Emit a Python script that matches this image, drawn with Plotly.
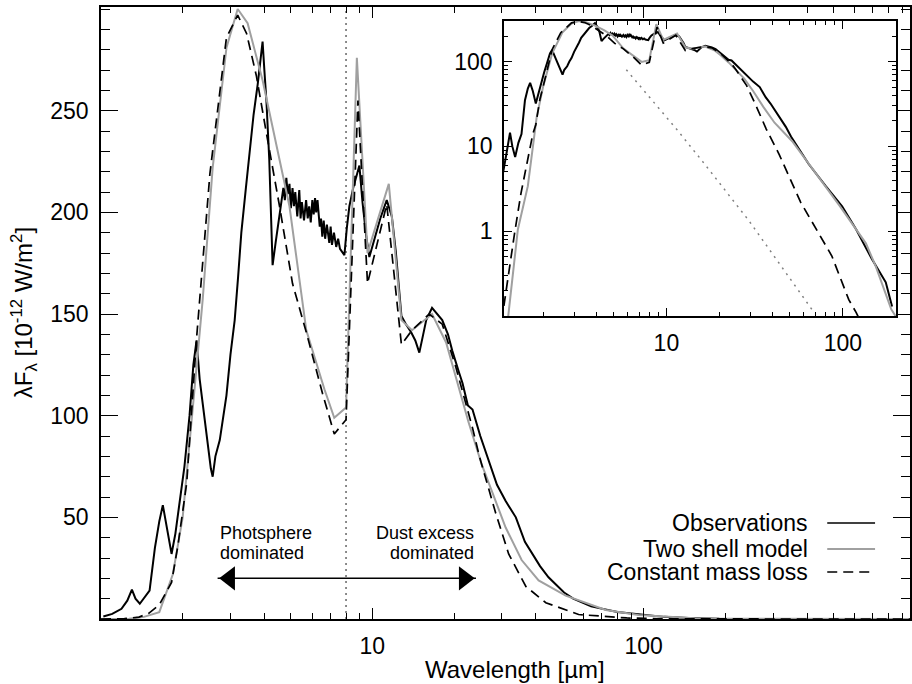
import math
import plotly.graph_objects as go

# ---------------- data ----------------
obs_wl = [1.02, 1.10, 1.19, 1.25, 1.30, 1.34, 1.39, 1.45, 1.51, 1.58, 1.64, 1.69, 1.75, 1.82, 1.88,
          1.95, 2.03, 2.12, 2.19, 2.25, 2.31, 2.37, 2.45, 2.54, 2.58, 2.64, 2.74, 2.82, 2.90, 3.00,
          3.11, 3.20, 3.29, 3.42, 3.53, 3.65, 3.78, 3.88, 3.94, 4.00, 4.07, 4.17, 4.24, 4.29, 4.40,
          4.55, 4.63, 4.70, 4.76, 4.82, 4.88, 4.95, 5.01, 5.08, 5.14, 5.20, 5.29, 5.38, 5.44, 5.50,
          5.60, 5.70, 5.78, 5.85, 5.93, 6.01, 6.08, 6.15, 6.21, 6.28, 6.40, 6.47, 6.54, 6.62, 6.70,
          6.80, 6.94, 7.02, 7.10, 7.22, 7.36, 7.48, 7.60, 7.89, 8.05, 8.23, 8.50, 8.72, 8.96, 9.20,
          9.50, 9.75, 10.2, 10.7, 11.3, 11.8, 12.2, 12.5, 12.8, 13.3, 13.9, 14.4, 14.9, 15.4, 15.8,
          16.6, 17.3, 18.1, 19.0, 19.7, 20.9, 21.5, 22.5, 23.4, 25.0, 26.2, 26.9, 28.8, 31.0, 33.8,
          36.5, 38.9, 41.5, 44.6, 47.5, 50.9, 55.0, 64.0, 80.0, 99.0, 119.0, 146.0, 175.0, 190.0]
obs_flux = [1.2, 2.5, 5.0, 9.0, 14.5, 10.0, 7.5, 11.0, 14.0, 35.0, 48.0, 56.0, 45.0, 32.0, 42.0,
            58.0, 75.0, 100.0, 125.0, 137.0, 118.0, 106.0, 90.0, 74.0, 70.0, 80.0, 88.0, 100.0, 110.0, 130.0,
            147.0, 168.0, 190.0, 212.0, 230.0, 248.0, 263.0, 278.0, 284.0, 270.0, 255.0, 226.0, 195.0, 174.0, 185.0,
            198.0, 206.0, 212.0, 206.0, 217.0, 209.0, 214.0, 202.0, 212.0, 203.0, 210.0, 198.0, 211.0, 197.0, 205.0,
            196.0, 206.0, 197.0, 203.0, 195.0, 206.0, 199.0, 207.0, 200.0, 206.0, 193.0, 197.0, 188.0, 196.0, 187.0,
            194.0, 185.0, 193.0, 184.0, 190.0, 183.0, 187.0, 182.0, 179.0, 192.0, 203.0, 212.0, 217.0, 223.0, 205.0,
            188.0, 178.0, 187.0, 197.0, 206.0, 198.0, 181.0, 165.0, 149.0, 145.0, 141.0, 137.0, 131.0, 140.0, 147.0,
            153.0, 150.0, 147.0, 140.0, 132.0, 121.0, 116.0, 105.0, 103.0, 90.0, 82.0, 77.0, 66.0, 58.0, 50.0,
            38.0, 32.0, 26.0, 20.5, 17.0, 13.0, 10.0, 6.2, 3.4, 1.97, 1.05, 0.47, 0.25, 0.13]

two_wl = [1.0, 1.27, 1.44, 1.64, 1.84, 2.0, 2.25, 2.37, 2.58, 2.9, 3.19, 3.47, 3.94, 4.43, 4.95,
          5.71, 6.66, 7.24, 8.0, 8.77, 9.6, 11.5, 12.8, 14.0, 15.8, 16.6, 18.7, 20.3, 22.6, 25.3,
          27.6, 31.0, 35.5, 41.0, 51.6, 72.5, 95.7, 135.0, 154.0, 188.0, 400.0, 1000.0]
two_flux = [0.004, 0.1, 1.05, 3.4, 22.0, 50.0, 124.0, 157.0, 222.0, 281.0, 300.0, 293.0, 265.0, 234.0, 203.0,
            142.0, 113.0, 99.0, 104.0, 276.0, 180.0, 214.0, 147.0, 142.0, 148.0, 150.0, 136.0, 119.0, 97.0, 76.0,
            63.0, 45.0, 29.0, 19.0, 11.5, 4.4, 2.0, 0.72, 0.38, 0.12, 0.01, 0.001]

cml_wl = [1.0, 1.22, 1.38, 1.5, 1.64, 1.75, 1.82, 1.92, 2.07, 2.25, 2.52, 2.90, 3.19, 3.44, 3.74,
          4.07, 4.55, 5.08, 5.71, 6.55, 7.24, 8.0, 8.85, 9.6, 11.3, 12.8, 14.0, 16.2, 18.1, 20.3,
          23.4, 24.8, 28.5, 31.8, 36.8, 43.6, 57.6, 86.6, 108.0, 119.0, 300.0, 1000.0]
cml_flux = [0.01, 0.17, 0.95, 2.8, 7.0, 14.0, 18.0, 36.0, 67.0, 138.0, 219.0, 286.0, 297.0, 288.0, 267.0,
            239.0, 203.0, 165.0, 141.0, 111.0, 91.0, 98.0, 255.0, 165.0, 204.0, 135.0, 142.0, 150.0, 145.0, 124.0,
            94.0, 80.0, 52.0, 32.0, 16.0, 8.0, 2.2, 0.51, 0.156, 0.11, 0.002, 0.0001]

phot_wl = [5.93, 11.4, 15.8, 29.2, 66.7]
phot_flux = [80.0, 16.0, 6.9, 1.35, 0.12]

divide_wl = 8.0                       # vertical dotted separator
arrow_wl = [2.98, 21.8]               # arrow heads (centres)
arrow_tip_wl = [2.69, 24.1]
arrow_flux = 20.0

legend_names = ["Observations", "Two shell model", "Constant mass loss"]
left_text = ["Photsphere", "dominated"]
right_text = ["Dust excess", "dominated"]

main_x_ticks = [10, 100]
main_x_minor = [2, 3, 4, 5, 6, 7, 8, 9, 20, 30, 40, 50, 60, 70, 80, 90, 200, 300, 400, 500, 600, 700, 800, 900]
main_y_ticks = [50, 100, 150, 200, 250]
inset_x_ticks = [10, 100]
inset_x_minor = [2, 3, 4, 5, 6, 7, 8, 9, 20, 30, 40, 50, 60, 70, 80, 90, 200]
inset_y_ticks = [1, 10, 100]
inset_y_minor = [0.2, 0.3, 0.4, 0.5, 0.6, 0.7, 0.8, 0.9, 2, 3, 4, 5, 6, 7, 8, 9,
                 20, 30, 40, 50, 60, 70, 80, 90, 200, 300]

assert len(obs_wl) == len(obs_flux)
assert len(two_wl) == len(two_flux)
assert len(cml_wl) == len(cml_flux)

# ---------------- styles ----------------
FONT = "Liberation Sans"
BLACK = "black"
GRAY = "#a0a0a0"
DASH = "10px,6px"

fig = go.Figure()

def line(x, y, xa, ya, color, width, dash="solid"):
    fig.add_trace(go.Scatter(x=x, y=y, xaxis=xa, yaxis=ya, mode="lines",
                             line=dict(color=color, width=width, dash=dash),
                             showlegend=False, hoverinfo="skip"))

# main panel
line([divide_wl, divide_wl], [0, 301], "x", "y", "#666666", 1.5, "2px,4px")
line(obs_wl, obs_flux, "x", "y", BLACK, 2.0)
line(two_wl, two_flux, "x", "y", GRAY, 2)
line(cml_wl, cml_flux, "x", "y", BLACK, 1.7, DASH)

# arrow
line(arrow_tip_wl, [arrow_flux, arrow_flux], "x", "y", BLACK, 1.5)
fig.add_trace(go.Scatter(x=arrow_wl, y=[arrow_flux, arrow_flux], mode="markers",
                         marker=dict(symbol=["triangle-left", "triangle-right"], size=21,
                                     color=BLACK, line=dict(width=0)),
                         showlegend=False, hoverinfo="skip"))

# inset panel
line(phot_wl, phot_flux, "x2", "y2", "#808080", 1.5, "2px,5px")
line(obs_wl, obs_flux, "x2", "y2", BLACK, 2.0)
line(two_wl, two_flux, "x2", "y2", GRAY, 2)
line(cml_wl, cml_flux, "x2", "y2", BLACK, 1.7, DASH)

axis_common = dict(showline=True, linecolor=BLACK, linewidth=1.5, mirror="ticks",
                   ticks="inside", tickcolor=BLACK, showgrid=False, zeroline=False,
                   tickfont=dict(family=FONT, size=23, color=BLACK))

fig.update_layout(
    width=912, height=684,
    margin=dict(l=101, r=0, t=7, b=65),
    paper_bgcolor="white", plot_bgcolor="white",
    font=dict(family=FONT, color=BLACK),
    showlegend=False,
    xaxis=dict(type="log", range=[0, 811 / 272], domain=[0, 1], anchor="y",
               tickmode="array", tickvals=main_x_ticks, ticktext=[str(v) for v in main_x_ticks],
               ticklen=11, tickwidth=1.3, ticklabelstandoff=6,
               minor=dict(tickmode="array", tickvals=main_x_minor, ticks="inside",
                          ticklen=6, tickwidth=1.1, tickcolor=BLACK),
               **axis_common),
    yaxis=dict(range=[0, 301], domain=[0, 1], anchor="x",
               tickmode="array", tickvals=main_y_ticks, ticktext=[str(v) for v in main_y_ticks],
               ticklen=17, tickwidth=1.3, ticklabelstandoff=6,
               minor=dict(dtick=10, tick0=0, ticks="inside", ticklen=9, tickwidth=1.1, tickcolor=BLACK),
               **axis_common),
    xaxis2=dict(type="log", range=[math.log10(1.2), math.log10(200)], domain=[0.498, 0.9827],
                anchor="y2", tickmode="array", tickvals=inset_x_ticks,
                ticktext=[str(v) for v in inset_x_ticks], ticklen=8, tickwidth=1.2,
                ticklabelstandoff=6,
                minor=dict(tickmode="array", tickvals=inset_x_minor, ticks="inside",
                           ticklen=4, tickwidth=1, tickcolor=BLACK),
                **axis_common),
    yaxis2=dict(type="log", range=[-1, math.log10(300)], domain=[0.495, 0.977],
                anchor="x2", tickmode="array", tickvals=inset_y_ticks,
                ticktext=[str(v) for v in inset_y_ticks], ticklen=8, tickwidth=1.2,
                ticklabelstandoff=5,
                minor=dict(tickmode="array", tickvals=inset_y_minor, ticks="inside",
                           ticklen=4, tickwidth=1, tickcolor=BLACK),
                **axis_common),
)

ann = []
# axis titles
ann.append(dict(text="Wavelength [µm]", xref="paper", yref="paper", x=0.5117, y=-0.083,
                xanchor="center", yanchor="middle", showarrow=False,
                font=dict(family=FONT, size=24, color=BLACK)))
ann.append(dict(text="λF<sub>λ</sub> [10<sup>-12</sup> W/m<sup>2</sup>]", xref="paper", yref="paper",
                x=-0.0949, y=0.5, xanchor="center", yanchor="middle", textangle=-90,
                showarrow=False, font=dict(family=FONT, size=24, color=BLACK)))
# region labels
for txt, fy in zip(left_text, [42.3, 32.4]):
    ann.append(dict(text=txt, xref="x", yref="y", x=math.log10(arrow_tip_wl[0]), y=fy,
                    xanchor="left", yanchor="middle", showarrow=False,
                    font=dict(family=FONT, size=18, color=BLACK)))
for txt, fy in zip(right_text, [42.3, 32.4]):
    ann.append(dict(text=txt, xref="x", yref="y", x=math.log10(arrow_tip_wl[1]), y=fy,
                    xanchor="right", yanchor="middle", showarrow=False,
                    font=dict(family=FONT, size=18, color=BLACK)))
# legend (text right-aligned, sample line on the right)
leg_y = [0.1569, 0.1144, 0.0768]
leg_style = [(BLACK, 1.5, "solid"), (GRAY, 2, "solid"), (BLACK, 1.7, DASH)]
shapes = []
for name, yy, (c, w, d) in zip(legend_names, leg_y, leg_style):
    ann.append(dict(text=name, xref="paper", yref="paper", x=0.8767, y=yy,
                    xanchor="right", yanchor="middle", showarrow=False,
                    font=dict(family=FONT, size=23, color=BLACK)))
    shapes.append(dict(type="line", xref="paper", yref="paper", x0=0.8977, x1=0.9568,
                       y0=yy, y1=yy, line=dict(color=c, width=w, dash=d)))

fig.update_layout(annotations=ann, shapes=shapes)
fig.write_html("out.html",
               config={"displayModeBar": False},
               post_script="document.body.style.margin='0';document.body.style.padding='0';"
                           "document.body.style.overflow='hidden';")
